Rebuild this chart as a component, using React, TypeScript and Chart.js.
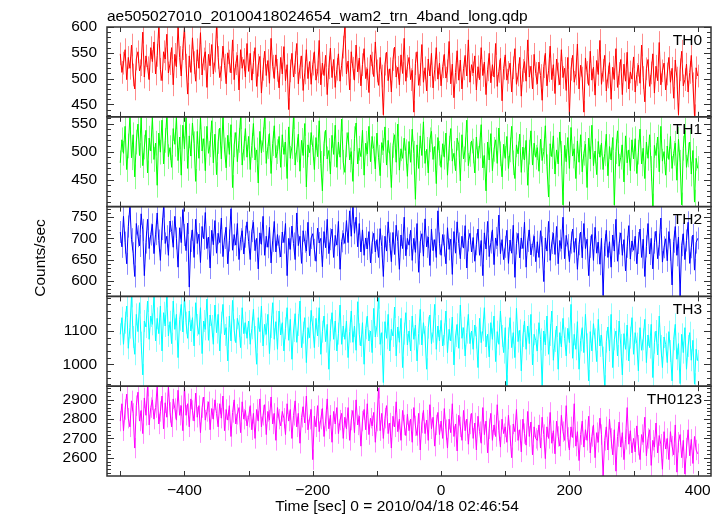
import React, { useEffect, useRef } from 'react';
import { Chart, registerables } from 'chart.js';

Chart.register(...registerables);

const TITLE = 'ae505027010_20100418024654_wam2_trn_4band_long.qdp';
const X_TITLE = 'Time [sec] 0 = 2010/04/18 02:46:54';
const Y_TITLE = 'Counts/sec';
const PANEL_NAMES = ['TH0', 'TH1', 'TH2', 'TH3', 'TH0123'];
const PANEL_COLORS = ['#ff0000', '#00ff00', '#0000ff', '#00ffff', '#ff00ff'];
const PANEL_LIGHT = ['#ff8c8c', '#8cff8c', '#8c8cff', '#8cffff', '#ff8cff'];

// time bins: start and bin width of the light curve (seconds)
const T_START = -500;
const T_STEP = 2.5;

// 1-sigma error bar half-length of each band (counts/sec)
const ERR = [22, 22, 26, 33, 53];

const TH0 = [
  548, 512, 530, 556, 498, 541, 520, 565, 507, 480, 538, 552, 515, 527, 590, 503, 544, 521, 498, 560,
  533, 571, 509, 545, 600, 518, 496, 552, 538, 586, 511, 529, 560, 488, 547, 523, 600, 541, 505, 558,
  600, 526, 470, 544, 512, 579, 531, 495, 556, 520, 589, 507, 538, 552, 483, 547, 525, 566, 509, 534,
  600, 541, 502, 517, 563, 526, 490, 550, 534, 511, 575, 498, 529, 545, 478, 556, 520, 537, 503, 568,
  514, 549, 497, 531, 560, 485, 526, 543, 472, 518, 553, 506, 535, 491, 578, 524, 500, 546, 516, 482,
  541, 509, 562, 496, 527, 440, 515, 549, 503, 531, 568, 490, 522, 544, 477, 511, 556, 500, 533, 489,
  528, 552, 497, 513, 574, 488, 530, 506, 545, 469, 521, 559, 502, 537, 483, 518, 548, 495, 526, 561,
  600, 509, 534, 478, 552, 520, 497, 565, 513, 540, 486, 527, 558, 500, 519, 473, 546, 530, 504, 571,
  515, 487, 541, 505, 430, 528, 551, 496, 519, 474, 537, 561, 503, 522, 488, 546, 510, 578, 495, 524,
  541, 498, 516, 435, 529, 552, 487, 508, 566, 493, 521, 476, 538, 505, 549, 482, 517, 560, 499, 530,
  486, 523, 547, 501, 515, 572, 490, 528, 463, 512, 554, 497, 536, 480, 519, 545, 505, 575, 493, 527,
  511, 544, 478, 523, 498, 560, 506, 532, 469, 517, 549, 492, 527, 503, 568, 485, 514, 539, 457, 520,
  546, 497, 512, 530, 474, 521, 558, 489, 507, 541, 466, 516, 533, 495, 575, 503, 524, 480, 547, 510,
  490, 532, 506, 458, 523, 549, 486, 515, 563, 498, 527, 471, 538, 509, 488, 556, 502, 520, 477, 541,
  430, 518, 545, 493, 509, 567, 480, 526, 501, 435, 540, 512, 487, 553, 497, 522, 468, 535, 508, 574,
  489, 516, 545, 476, 503, 531, 460, 522, 498, 558, 483, 510, 537, 469, 528, 495, 551, 480, 513, 499,
  542, 474, 508, 526, 491, 565, 502, 455, 519, 537, 485, 511, 548, 472, 524, 496, 570, 488, 515, 530,
  478, 509, 541, 493, 520, 462, 536, 501, 430, 517, 553, 486, 498, 528, 474, 512, 545, 490, 428, 521,
  505,
];

const TH1 = [
  480, 521, 497, 545, 468, 510, 562, 489, 530, 455, 517, 549, 493, 562, 475, 508, 538, 462, 524, 501,
  562, 486, 515, 440, 533, 499, 556, 478, 520, 562, 491, 507, 472, 541, 513, 562, 484, 526, 458, 547,
  505, 562, 470, 528, 492, 551, 514, 447, 536, 488, 562, 501, 523, 466, 545, 497, 512, 555, 480, 531,
  459, 518, 542, 487, 562, 503, 471, 529, 495, 548, 436, 512, 534, 482, 520, 562, 476, 506, 541, 490,
  527, 468, 511, 550, 485, 503, 444, 536, 498, 521, 562, 479, 509, 532, 461, 514, 546, 489, 500, 527,
  472, 530, 495, 517, 452, 544, 488, 509, 562, 476, 503, 531, 465, 520, 493, 550, 437, 512, 498, 534,
  507, 468, 525, 491, 555, 479, 430, 514, 538, 487, 502, 460, 529, 495, 547, 472, 517, 490, 558, 481,
  463, 512, 534, 485, 500, 447, 523, 551, 478, 506, 491, 538, 458, 515, 496, 545, 482, 527, 505, 469,
  533, 490, 457, 516, 502, 544, 476, 520, 494, 436, 511, 530, 481, 549, 467, 505, 488, 524, 500, 456,
  518, 481, 540, 497, 415, 512, 470, 528, 493, 553, 479, 504, 462, 521, 536, 486, 509, 443, 525, 497,
  472, 514, 490, 533, 458, 506, 541, 483, 497, 466, 524, 512, 448, 530, 487, 503, 556, 475, 495, 519,
  501, 462, 526, 488, 510, 548, 471, 493, 430, 517, 485, 532, 466, 504, 521, 479, 542, 496, 455, 513,
  488, 527, 470, 503, 545, 480, 452, 512, 496, 531, 463, 508, 485, 520, 440, 499, 537, 476, 515, 490,
  507, 465, 522, 484, 500, 546, 473, 419, 514, 491, 528, 460, 503, 478, 535, 497, 405, 511, 482, 525,
  470, 543, 492, 505, 452, 519, 481, 530, 464, 497, 513, 436, 524, 487, 547, 475, 501, 459, 518, 490,
  515, 468, 496, 531, 457, 509, 485, 525, 405, 500, 537, 474, 490, 512, 446, 528, 480, 503, 466, 521,
  487, 523, 461, 499, 540, 478, 506, 452, 517, 488, 530, 470, 403, 511, 493, 526, 464, 545, 483, 500,
  458, 510, 486, 527, 470, 497, 515, 449, 522, 481, 405, 506, 538, 472, 494, 517, 460, 502, 410, 488,
  470,
];

const TH2 = [
  715, 680, 752, 690, 640, 728, 775, 698, 665, 610, 735, 705, 682, 758, 720, 612, 690, 745, 676, 709,
  733, 664, 710, 760, 695, 648, 722, 775, 688, 705, 660, 741, 716, 679, 752, 700, 632, 725, 690, 768,
  708, 671, 736, 585, 694, 720, 655, 745, 688, 710, 643, 728, 699, 761, 676, 703, 630, 719, 685, 742,
  665, 712, 690, 748, 657, 701, 726, 640, 695, 770, 672, 709, 684, 735, 650, 698, 718, 663, 704, 739,
  692, 650, 717, 738, 671, 700, 628, 713, 686, 752, 660, 705, 679, 726, 642, 694, 740, 668, 709, 681,
  656, 715, 690, 735, 612, 700, 674, 729, 688, 650, 760, 683, 705, 641, 718, 692, 670, 738, 659, 701,
  711, 673, 646, 724, 689, 700, 633, 716, 678, 745, 664, 698, 722, 655, 707, 684, 740, 627, 693, 712,
  688, 742, 690, 765, 705, 775, 712, 750, 680, 735, 668, 720, 660, 701, 675, 716, 642, 690, 712, 668,
  697, 655, 723, 681, 610, 705, 670, 739, 688, 645, 714, 662, 731, 693, 627, 708, 676, 750, 659, 700,
  684, 719, 648, 700, 667, 735, 620, 692, 711, 658, 746, 680, 703, 636, 722, 671, 697, 655, 765, 688,
  660, 709, 683, 640, 725, 674, 698, 615, 716, 665, 739, 688, 652, 705, 677, 730, 630, 695, 712, 668,
  702, 646, 686, 722, 660, 695, 612, 713, 675, 740, 657, 690, 720, 638, 701, 683, 755, 664, 697, 650,
  680, 719, 641, 696, 665, 731, 608, 688, 712, 654, 701, 676, 738, 632, 694, 720, 661, 683, 705, 645,
  692, 655, 718, 679, 598, 701, 670, 740, 648, 689, 712, 662, 728, 640, 695, 676, 750, 652, 707, 684,
  645, 690, 722, 667, 700, 627, 686, 715, 654, 735, 676, 698, 612, 680, 709, 648, 726, 665, 691, 639,
  700, 565, 684, 719, 655, 692, 632, 708, 670, 745, 646, 688, 713, 660, 697, 623, 680, 730, 651, 694,
  672, 705, 640, 689, 722, 655, 698, 610, 681, 735, 663, 700, 628, 690, 717, 652, 685, 748, 644, 679,
  699, 647, 716, 673, 590, 692, 728, 660, 703, 563, 684, 711, 650, 695, 738, 641, 679, 708, 625, 690,
  700,
];

const TH3 = [
  1090, 1140, 1060, 1125, 1175, 1048, 1110, 1204, 1082, 1030, 1150, 1098, 1185, 1065, 968, 1130, 1112, 1190, 1075, 1145,
  1120, 1204, 1070, 1138, 1092, 1175, 1040, 1155, 1115, 1204, 1085, 1128, 1062, 1190, 1105, 1150, 1020, 1134, 1180, 1097,
  1204, 1125, 1078, 1160, 1100, 1140, 1055, 1185, 1118, 1090, 1170, 1032, 1130, 1105, 1196, 1072, 1148, 1115, 1060, 1178,
  1095, 1150, 1040, 1125, 1180, 1088, 1110, 1010, 1145, 1070, 1192, 1102, 1065, 1138, 1115, 1050, 1170, 1092, 1125, 1078,
  1130, 1060, 1108, 1165, 1082, 1000, 1140, 1098, 1175, 1055, 1120, 1090, 1150, 1032, 1112, 1185, 1075, 1128, 1045, 1160,
  1088, 1125, 1040, 1108, 1170, 1072, 1135, 1015, 1100, 1152, 1066, 1118, 1190, 1050, 1095, 1140, 1005, 1110, 1080, 1162,
  1112, 1050, 1138, 1085, 1170, 1030, 1098, 1145, 1068, 1120, 985, 1102, 1155, 1075, 1130, 1040, 1092, 1178, 1060, 1115,
  1075, 1130, 1020, 1098, 1160, 1066, 1115, 1042, 1188, 1090, 1055, 1125, 1000, 1108, 1145, 1070, 1100, 1035, 1168, 1082,
  1115, 1200, 1060, 1095, 945, 1128, 1078, 1150, 1040, 1105, 1085, 1172, 1025, 1112, 1066, 1138, 990, 1092, 1155, 1058,
  1100, 1040, 1145, 1075, 1118, 1010, 1092, 1165, 1058, 1125, 1082, 985, 1110, 1148, 1062, 1098, 1180, 1045, 1115, 1070,
  1132, 1055, 1090, 1160, 1035, 1105, 1070, 1142, 998, 1085, 1120, 1048, 1178, 1078, 1110, 1025, 1095, 1150, 1062, 1100,
  1045, 1118, 1080, 990, 1138, 1065, 1102, 1170, 1052, 1090, 1022, 1125, 1075, 1145, 1008, 1098, 1060, 1160, 1085, 1035,
  1110, 934, 1078, 1140, 1050, 1095, 1020, 1168, 1068, 1102, 980, 1085, 1130, 1045, 1115, 1062, 1150, 998, 1090, 1072,
  1040, 1125, 1075, 934, 1100, 1058, 1145, 1030, 1088, 1160, 1012, 1070, 1115, 985, 1095, 1052, 1138, 1078, 1025, 1108,
  1065, 1180, 1018, 1090, 1045, 1128, 985, 1072, 1110, 1035, 1150, 1060, 950, 1098, 1040, 1122, 1075, 1008, 1135, 1055,
  1088, 1020, 934, 1068, 1112, 1040, 1150, 990, 1075, 1100, 1025, 1130, 1058, 968, 1092, 1045, 1118, 1010, 1080, 1140,
  1030, 1095, 1062, 980, 1110, 1042, 1075, 1135, 1005, 1088, 1050, 1120, 960, 1065, 1100, 1028, 1145, 1055, 990, 1082,
  1060, 1005, 1098, 1040, 950, 1075, 1120, 1015, 1062, 942, 1090, 1035, 1110, 985, 1055, 1095, 1012, 1072, 940, 1045,
  1010,
];

const TH0123 = [
  2790, 2880, 2740, 2850, 2930, 2805, 2760, 2895, 2830, 2650, 2870, 2940, 2790, 2845, 2725, 2910, 2820, 2971, 2770, 2860,
  2900, 2800, 2860, 2971, 2775, 2840, 2920, 2750, 2885, 2810, 2971, 2835, 2760, 2905, 2855, 2795, 2950, 2820, 2870, 2740,
  2971, 2820, 2880, 2760, 2905, 2845, 2790, 2935, 2810, 2870, 2730, 2860, 2915, 2795, 2840, 2890, 2745, 2855, 2800, 2900,
  2830, 2760, 2880, 2805, 2920, 2740, 2850, 2795, 2870, 2710, 2835, 2900, 2775, 2825, 2860, 2730, 2890, 2800, 2845, 2765,
  2810, 2870, 2745, 2830, 2700, 2850, 2790, 2905, 2760, 2820, 2875, 2720, 2840, 2795, 2915, 2775, 2830, 2690, 2860, 2800,
  2765, 2840, 2805, 2720, 2880, 2790, 2850, 2700, 2820, 2895, 2760, 2830, 2675, 2810, 2865, 2780, 2920, 2745, 2800, 2850,
  2590, 2815, 2760, 2870, 2735, 2800, 2855, 2710, 2790, 2905, 2750, 2820, 2680, 2840, 2775, 2860, 2725, 2795, 2830, 2700,
  2810, 2750, 2860, 2690, 2795, 2845, 2730, 2900, 2770, 2815, 2660, 2790, 2850, 2745, 2880, 2720, 2805, 2765, 2835, 2680,
  2790, 2960, 2740, 2830, 2700, 2805, 2870, 2725, 2780, 2650, 2815, 2760, 2890, 2735, 2800, 2690, 2845, 2770, 2715, 2825,
  2740, 2800, 2680, 2860, 2765, 2715, 2830, 2640, 2780, 2845, 2725, 2795, 2690, 2875, 2750, 2810, 2660, 2770, 2835, 2720,
  2790, 2700, 2855, 2745, 2650, 2800, 2730, 2880, 2710, 2775, 2635, 2820, 2760, 2690, 2845, 2740, 2800, 2670, 2775, 2830,
  2700, 2780, 2640, 2815, 2735, 2675, 2860, 2720, 2790, 2625, 2750, 2830, 2690, 2770, 2710, 2875, 2740, 2655, 2800, 2725,
  2760, 2680, 2820, 2715, 2600, 2775, 2735, 2850, 2690, 2745, 2630, 2800, 2725, 2665, 2840, 2710, 2785, 2615, 2760, 2700,
  2690, 2770, 2650, 2810, 2720, 2595, 2760, 2700, 2835, 2675, 2740, 2620, 2790, 2710, 2660, 2820, 2735, 2690, 2870, 2705,
  2640, 2760, 2705, 2880, 2660, 2735, 2585, 2720, 2790, 2655, 2745, 2690, 2815, 2625, 2710, 2770, 2600, 2730, 2680, 2805,
  2720, 2505, 2690, 2760, 2640, 2800, 2700, 2615, 2745, 2530, 2710, 2785, 2655, 2730, 2590, 2695, 2860, 2670, 2740, 2625,
  2700, 2630, 2765, 2665, 2590, 2720, 2680, 2810, 2610, 2700, 2745, 2560, 2690, 2655, 2780, 2625, 2715, 2670, 2540, 2735,
  2645, 2700, 2590, 2735, 2660, 2615, 2770, 2525, 2680, 2720, 2600, 2690, 2515, 2650, 2745, 2610, 2695, 2570, 2710, 2640,
  2620,
];

const SERIES = [TH0, TH1, TH2, TH3, TH0123];

const Y_MIN = [426, 402, 563, 934, 2505];
const Y_MAX = [600, 562, 775, 1204, 2971];
const Y_TICK_LABELS = [
  [450, 500, 550, 600],
  [450, 500, 550],
  [600, 650, 700, 750],
  [1000, 1100],
  [2600, 2700, 2800, 2900],
];
const Y_MINOR_STEP = [10, 10, 10, 20, 20];

const X_MIN = -520.7;
const X_MAX = 420.7;
const X_TICK_LABELS = [-400, -200, 0, 200, 400];
const X_TICK_MARKS = [-500, -400, -300, -200, -100, 0, 100, 200, 300, 400];

const FONT = '"Liberation Sans", Arial, Helvetica, sans-serif';
const FONT_SIZE = 15.5;

// error bars (light vertical strokes) under the light curves, clipped to each panel
const errorBarPlugin = {
  id: 'qdpErrors',
  beforeDatasetsDraw(chart: any) {
    const ctx = chart.ctx;
    const area = chart.chartArea;
    const xs = chart.scales.x;
    ctx.save();
    SERIES.forEach((arr, k) => {
      const ys = chart.scales['y' + k];
      ctx.save();
      ctx.beginPath();
      ctx.rect(area.left, ys.top, area.right - area.left, ys.bottom - ys.top);
      ctx.clip();
      ctx.strokeStyle = PANEL_LIGHT[k];
      ctx.lineWidth = 1;
      ctx.beginPath();
      arr.forEach((v, i) => {
        const px = Math.round(xs.getPixelForValue(T_START + i * T_STEP)) + 0.5;
        ctx.moveTo(px, ys.getPixelForValue(v - ERR[k]));
        ctx.lineTo(px, ys.getPixelForValue(v + ERR[k]));
      });
      ctx.stroke();
      ctx.restore();
    });
    ctx.restore();
  },
};

const framePlugin = {
  id: 'qdpFrame',
  afterDatasetsDraw(chart: any) {
    const ctx = chart.ctx;
    const area = chart.chartArea;
    const xs = chart.scales.x;
    ctx.save();
    SERIES.forEach((_, k) => {
      const ys = chart.scales['y' + k];
      const top = ys.top;
      const bottom = ys.bottom;
      ctx.strokeStyle = '#333';
      ctx.lineWidth = 1;
      ctx.beginPath();
      for (const t of X_TICK_MARKS) {
        const px = Math.round(xs.getPixelForValue(t)) + 0.5;
        ctx.moveTo(px, top);
        ctx.lineTo(px, top + 5);
        ctx.moveTo(px, bottom);
        ctx.lineTo(px, bottom - 5);
      }
      const step = Y_MINOR_STEP[k];
      for (let v = Math.ceil(Y_MIN[k] / step) * step; v <= Y_MAX[k]; v += step) {
        const py = Math.round(ys.getPixelForValue(v)) + 0.5;
        const len = Y_TICK_LABELS[k].includes(v) ? 7 : 4;
        ctx.moveTo(area.left, py);
        ctx.lineTo(area.left + len, py);
        ctx.moveTo(area.right, py);
        ctx.lineTo(area.right - len, py);
      }
      ctx.stroke();
      ctx.lineWidth = 1.5;
      ctx.strokeRect(area.left, top, area.right - area.left, bottom - top);
      ctx.fillStyle = '#000';
      ctx.font = FONT_SIZE + 'px ' + FONT;
      ctx.textAlign = 'right';
      ctx.textBaseline = 'alphabetic';
      ctx.fillText(PANEL_NAMES[k], area.right - 9, top + 17.5);
    });
    ctx.fillStyle = '#000';
    ctx.font = FONT_SIZE + 'px ' + FONT;
    ctx.textAlign = 'left';
    ctx.textBaseline = 'alphabetic';
    ctx.fillText(TITLE, 107, 20.5);
    ctx.textAlign = 'center';
    ctx.fillText(X_TITLE, 397, 511);
    ctx.translate(41, 258);
    ctx.rotate(-Math.PI / 2);
    ctx.textBaseline = 'middle';
    ctx.fillText(Y_TITLE, 0, 0);
    ctx.restore();
  },
};

export default function App() {
  const ref = useRef<HTMLCanvasElement>(null);

  useEffect(() => {
    if (!ref.current) return;
    const scales: any = {
      x: {
        type: 'linear',
        min: X_MIN,
        max: X_MAX,
        grid: { display: false, drawTicks: false },
        border: { display: false },
        afterBuildTicks: (s: any) => {
          s.ticks = X_TICK_LABELS.map((v) => ({ value: v }));
        },
        afterFit: (s: any) => {
          s.height = 40;
        },
        ticks: {
          padding: 5,
          autoSkip: false,
          maxRotation: 0,
          color: '#000',
          font: { family: FONT, size: FONT_SIZE },
          callback: (v: any) => String(v).replace('-', '\u2212'),
        },
      },
    };
    SERIES.forEach((_, k) => {
      scales['y' + k] = {
        type: 'linear',
        position: 'left',
        stack: 'panels',
        stackWeight: 1,
        weight: 5 - k,
        min: Y_MIN[k],
        max: Y_MAX[k],
        grid: { display: false, drawTicks: false },
        border: { display: false },
        afterBuildTicks: (s: any) => {
          s.ticks = Y_TICK_LABELS[k].map((v) => ({ value: v }));
        },
        afterFit: (s: any) => {
          s.width = 107;
        },
        ticks: {
          padding: 10,
          autoSkip: false,
          color: '#000',
          font: { family: FONT, size: FONT_SIZE },
          callback: (v: any) => String(v),
        },
      };
    });
    const datasets = SERIES.map((arr, k) => ({
      label: PANEL_NAMES[k],
      data: arr.map((v, i) => ({ x: T_START + i * T_STEP, y: v })),
      yAxisID: 'y' + k,
      borderColor: PANEL_COLORS[k],
      borderWidth: 1,
      pointRadius: 0,
      tension: 0,
      fill: false,
    }));
    const chart = new Chart(ref.current, {
      type: 'line',
      data: { datasets },
      options: {
        responsive: false,
        animation: false,
        layout: { padding: { top: 27, right: 12, left: 0, bottom: 0 } },
        plugins: {
          legend: { display: false },
          title: { display: false },
          tooltip: { enabled: false },
        },
        scales,
      },
      plugins: [errorBarPlugin, framePlugin],
    });
    return () => chart.destroy();
  }, []);

  return (
    <div style={{ position: 'absolute', left: 0, top: 0, width: 723, height: 516, background: '#fff' }}>
      <canvas ref={ref} width={723} height={516} style={{ display: 'block' }} />
    </div>
  );
}
